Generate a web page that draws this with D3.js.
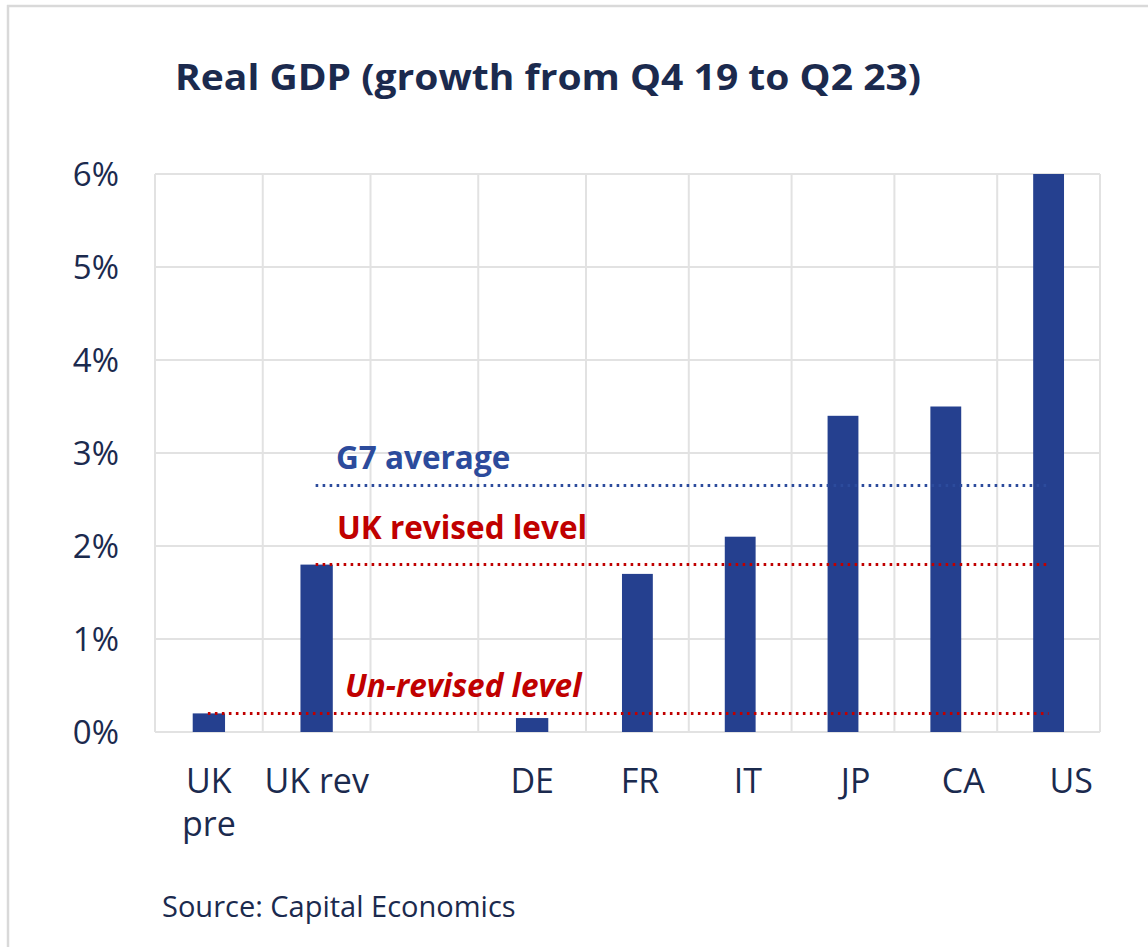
<!DOCTYPE html>
<html>
<head>
<meta charset="utf-8">
<script src="https://cdn.jsdelivr.net/npm/d3@7"></script>
<style>
  html, body { margin: 0; padding: 0; background: #fff; }
  svg { display: block; }
</style>
</head>
<body>
<svg id="chart" width="1148" height="947"></svg>
<script>
// Real GDP growth, Q4 2019 to Q2 2023 (%)
const categories = ["UK pre", "UK rev", "", "DE", "FR", "IT", "JP", "CA", "US"];
const growth = [0.2, 1.8, null, 0.15, 1.7, 2.1, 3.4, 3.5, 6.0];
const yTicks = [0, 1, 2, 3, 4, 5, 6];

// Reference levels drawn as dotted lines
const refLabels = ["G7 average", "UK revised level", "Un-revised level"];
const refValues = [2.65, 1.8, 0.2];
const refFrom = ["UK rev", "UK rev", "UK pre"];
const refTo = ["US", "US", "US"];

const navy = "#1b2a4e";
const barColor = "#25408f";
const red = "#c00000";
const blueText = "#2c4b9c";
const gridColor = "#e2e2e2";

const svg = d3.select("#chart");

// Frame lines
svg.append("line").attr("x1", 7).attr("x2", 1148).attr("y1", 6).attr("y2", 6)
  .attr("stroke", "#d9d9d9").attr("stroke-width", 2.5);
svg.append("line").attr("x1", 8).attr("x2", 8).attr("y1", 5).attr("y2", 947)
  .attr("stroke", "#d9d9d9").attr("stroke-width", 2.5);

// Title
svg.append("text")
  .attr("x", 175).attr("y", 90)
  .attr("font-family", "'Open Sans', sans-serif")
  .attr("font-weight", 700)
  .attr("font-size", 36)
  .attr("fill", navy)
  .attr("textLength", 746)
  .attr("lengthAdjust", "spacingAndGlyphs")
  .text("Real GDP (growth from Q4 19 to Q2 23)");

const plotTop = 174, plotBottom = 732;

const y = d3.scaleLinear().domain([0, 6]).range([plotBottom, plotTop]);

// Plot columns: band index -> x edge
const xs = d3.scaleLinear().domain([0, 4, 9]).range([155, 586, 1100]);
const idx = d3.scaleOrdinal().domain(categories).range(d3.range(categories.length));
const center = c => xs(idx(c) + 0.5);

// Category labels sit on an evenly spaced band scale
const xLab = d3.scaleBand().domain(categories).range([155, 1125]);

// Gridlines
const grid = svg.append("g");
grid.selectAll("line.h").data(yTicks).join("line")
  .attr("x1", xs(0)).attr("x2", xs(9))
  .attr("y1", d => y(d)).attr("y2", d => y(d))
  .attr("stroke", gridColor).attr("stroke-width", 2);
grid.selectAll("line.v").data(d3.range(categories.length + 1)).join("line")
  .attr("x1", d => xs(d)).attr("x2", d => xs(d))
  .attr("y1", y(6)).attr("y2", y(0))
  .attr("stroke", gridColor).attr("stroke-width", 2);

// Y axis labels
const yAxis = d3.axisLeft(y).tickValues(yTicks).tickFormat(d => d + "%").tickSize(0).tickPadding(36);
const ya = svg.append("g").attr("transform", `translate(${xs(0)},0)`).call(yAxis);
ya.select(".domain").remove();
ya.selectAll("text")
  .attr("font-family", "'Open Sans', sans-serif")
  .attr("font-size", 33)
  .attr("fill", navy)
  .attr("dy", "0.36em");

// Bars
const barData = categories.map((c, i) => ({ c, v: growth[i], i })).filter(d => d.v !== null);
svg.append("g").selectAll("rect").data(barData).join("rect")
  .attr("x", d => xs(d.i + 0.35))
  .attr("width", d => xs(d.i + 0.65) - xs(d.i + 0.35))
  .attr("y", d => y(d.v))
  .attr("height", d => y(0) - y(d.v))
  .attr("fill", barColor);

// Reference lines
const refColors = [blueText, red, red];
const refStyles = ["normal", "normal", "italic"];
const refDy = [-17, -26, -16];
const refX = [336, 337, 345];
refLabels.forEach((lab, i) => {
  svg.append("line")
    .attr("x1", center(refFrom[i]) - 1)
    .attr("x2", center(refTo[i]))
    .attr("y1", y(refValues[i])).attr("y2", y(refValues[i]))
    .attr("stroke", refColors[i])
    .attr("stroke-width", 3)
    .attr("stroke-dasharray", "2.6 4.4");
  svg.append("text")
    .attr("x", refX[i])
    .attr("y", y(refValues[i]) + refDy[i])
    .attr("font-family", "'Open Sans', sans-serif")
    .attr("font-weight", 700)
    .attr("font-style", refStyles[i])
    .attr("font-size", 31.5)
    .attr("fill", refColors[i])
    .text(lab);
});

// Category labels (wrapped onto two lines where needed)
const wrapped = { "UK pre": ["UK", "pre"] };
const xl = svg.append("g");
categories.forEach(c => {
  if (!c) return;
  const lines = wrapped[c] || [c];
  const t = xl.append("text")
    .attr("text-anchor", "middle")
    .attr("font-family", "'Open Sans', sans-serif")
    .attr("font-size", 34)
    .attr("fill", navy);
  lines.forEach((ln, k) => {
    t.append("tspan")
      .attr("x", xLab(c) + xLab.bandwidth() / 2)
      .attr("y", 793 + k * 43)
      .text(ln);
  });
});

// Source note
svg.append("text")
  .attr("x", 162).attr("y", 917)
  .attr("font-family", "'Open Sans', sans-serif")
  .attr("font-size", 29)
  .attr("fill", navy)
  .text("Source: Capital Economics");
</script>
</body>
</html>
